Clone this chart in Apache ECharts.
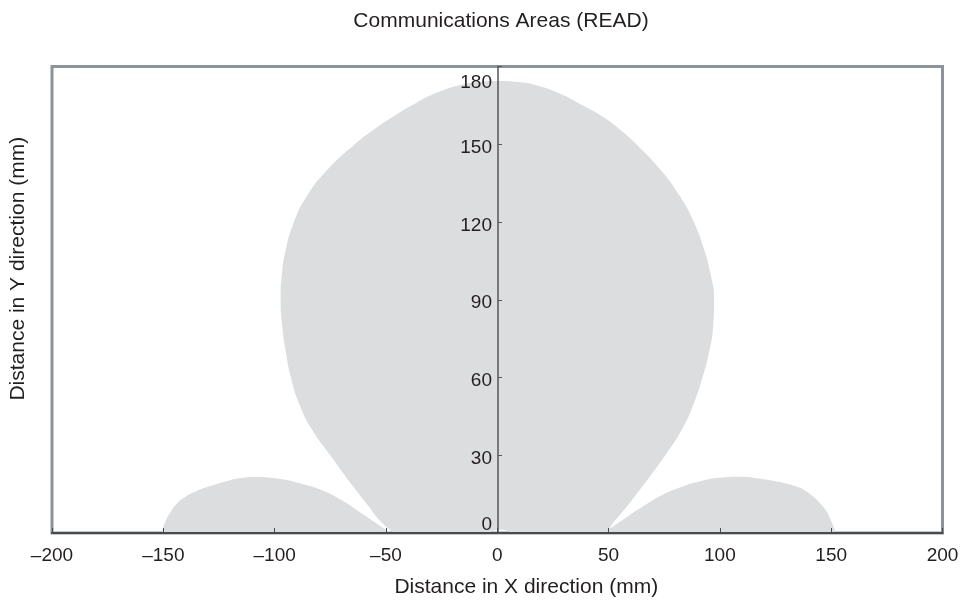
<!DOCTYPE html>
<html>
<head>
<meta charset="utf-8">
<title>Communications Areas (READ)</title>
<script src="https://cdn.jsdelivr.net/npm/echarts@6/dist/echarts.min.js"></script>
<style>
	html, body { margin: 0; padding: 0; background: #fff; }
	#chart { width: 962px; height: 603px; }
</style>
</head>
<body>
<div id="chart"></div>
<script>
// main lobe outline, clockwise from the left foot, ends with the small notch at the origin
var mainX = [-46.5, -53, -57.5, -62, -66.5, -75, -83.3, -89, -92.7, -95, -96.6, -97.3, -96.7, -94.8, -91.3, -85.5, -76.5, -64, -56.5, -48, -38.5, -27, -16, -8, 0,
	8, 16.5, 27, 38.5, 48.5, 56, 62.5, 73.5, 82, 88.3, 92.7, 95.8, 97.4, 97, 95.2, 92.2, 88.3, 83, 75.5, 67, 62.5, 58, 53, 47,
	6, 4.5, 1, -2, -3.5];
var mainY = [0, 5, 10, 15, 20, 30, 40, 50, 60, 70, 80, 90, 100, 110, 120, 130, 140, 150, 155, 160, 165, 170, 173, 174.1, 174.4,
	174.1, 173, 170, 165, 160, 155, 150, 140, 130, 120, 110, 100, 90, 80, 70, 60, 50, 40, 30, 20, 15, 10, 5, 0,
	0, 0.9, 1.3, 0.9, 0];

// left side lobe
var leftX = [-150.7, -149.3, -147, -144, -140, -135, -129.7, -120, -115, -108, -102, -95.5, -87, -79, -70, -61, -52, -48];
var leftY = [0, 4, 7.7, 11.3, 14, 16.2, 17.9, 20.4, 21.2, 21.6, 21.3, 20.5, 18.8, 16.6, 12.7, 7.6, 2.4, 0];

// right side lobe
var rightX = [48, 52, 58, 65, 73, 82, 92, 100, 109.4, 118, 128.8, 134, 137.8, 142, 145, 148, 149.8, 151.2, 152];
var rightY = [0, 2.5, 6, 10, 14.2, 17.6, 20.2, 21.3, 21.7, 20.9, 19.3, 18, 16.6, 14, 11.5, 8.2, 5, 2.2, 0];

var xTicks = [-200, -150, -100, -50, 0, 50, 100, 150, 200];
var yTicks = [0, 30, 60, 90, 120, 150, 180];

var font = '"Liberation Sans", Arial, Helvetica, sans-serif';
var ink = '#231f20';
var fill = '#dcdddf';

function pairs(xs, ys) {
	var out = [];
	for (var i = 0; i < xs.length; i++) out.push([xs[i], ys[i]]);
	return out;
}

function lobe(name, xs, ys) {
	return {
		name: name,
		type: 'line',
		data: pairs(xs, ys),
		smooth: 0.5,
		symbol: 'none',
		z: 1,
		lineStyle: { width: 0, color: fill },
		areaStyle: { color: fill, opacity: 1, origin: 0 },
		silent: true
	};
}

var gridLeft = 50.5, gridRight = 19.5;
var plotWidth = 962 - gridLeft - gridRight;

var option = {
	animation: false,
	backgroundColor: '#fff',
	title: {
		text: 'Communications Areas (READ)',
		left: 496,
		top: 6,
		textAlign: 'center',
		textStyle: { fontFamily: font, fontSize: 21, fontWeight: 'normal', color: ink }
	},
	grid: {
		left: gridLeft,
		right: gridRight,
		top: 66.5,
		bottom: 70,
		show: true,
		borderColor: '#8c949b',
		borderWidth: 3
	},
	xAxis: {
		type: 'value',
		min: xTicks[0],
		max: xTicks[xTicks.length - 1],
		interval: 50,
		z: 5,
		name: 'Distance in X direction (mm)',
		nameLocation: 'middle',
		nameGap: 44,
		nameTextStyle: { fontFamily: font, fontSize: 21, color: ink, padding: [0, 0, 0, 58] },
		axisLine: { onZero: true, lineStyle: { color: '#4a4a4a', width: 2 } },
		axisTick: { inside: true, length: 5, lineStyle: { color: '#4a4a4a', width: 1 } },
		axisLabel: {
			margin: 13,
			fontFamily: font,
			fontSize: 19,
			color: ink,
			formatter: function (v) { return String(v).replace('-', '\u2013'); }
		},
		splitLine: { show: false }
	},
	yAxis: [{
		// the axis with its labels sits on x = 0, in the middle of the plot
		type: 'value',
		position: 'left',
		offset: -plotWidth * (0 - xTicks[0]) / (xTicks[xTicks.length - 1] - xTicks[0]),
		min: yTicks[0],
		max: yTicks[yTicks.length - 1],
		interval: 30,
		z: 5,
		axisLine: { show: true, onZero: false, lineStyle: { color: '#555', width: 1.5 } },
		axisTick: { show: true, inside: true, length: 4, lineStyle: { color: '#555', width: 1 } },
		axisLabel: {
			margin: 6,
			fontFamily: font,
			fontSize: 19,
			color: ink,
			formatter: function (v) {
				if (v === 180) return '{top|' + v + '}';
				if (v === 0) return '{bot|' + v + '}';
				return '{mid|' + v + '}';
			},
			rich: {
				top: { fontFamily: font, fontSize: 19, color: ink, padding: [32, 0, 0, 0] },
				bot: { fontFamily: font, fontSize: 19, color: ink, padding: [0, 0, 16, 0] },
				mid: { fontFamily: font, fontSize: 19, color: ink, padding: [7, 0, 0, 0] }
			}
		},
		splitLine: { show: false }
	}, {
		// carries only the axis title on the left edge
		type: 'value',
		position: 'left',
		min: yTicks[0],
		max: yTicks[yTicks.length - 1],
		interval: 30,
		name: 'Distance in Y direction (mm)',
		nameLocation: 'middle',
		nameGap: 23,
		nameTextStyle: { fontFamily: font, fontSize: 21, color: ink, padding: [0, 0, 0, 62] },
		axisLine: { show: false, onZero: false },
		axisTick: { show: false },
		axisLabel: { show: false },
		splitLine: { show: false }
	}],
	series: [
		lobe('main', mainX, mainY),
		lobe('left', leftX, leftY),
		lobe('right', rightX, rightY)
	]
};

var myChart = echarts.init(document.getElementById('chart'));
myChart.setOption(option);
</script>
</body>
</html>
